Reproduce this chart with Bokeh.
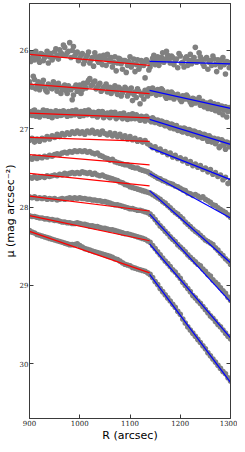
from bokeh.plotting import figure
from bokeh.models import ColumnDataSource, Range1d, FixedTicker, LinearAxis, CustomJSTickFormatter
from bokeh.embed import file_html
from bokeh.resources import INLINE

# ---------------- data ----------------
radius = list(range(900, 1301, 5))                  # arcsec, main sampling
radius_b = [r + 2.5 for r in range(900, 1300, 5)]   # arcsec, extra sampling (noisy outer profiles)

mu_1 = [26.10, 26.03, 26.12, 26.06, 26.15, 26.05, 26.09, 26.01, 26.08, 26.12, 26.02, 26.06, 25.99, 26.05, 25.96, 26.03, 25.90, 26.00, 26.07, 26.02,
        26.10, 26.04, 26.13, 26.06, 26.16, 26.09, 26.03, 26.12, 26.07, 26.18, 26.10, 26.05, 26.14, 26.21, 26.08, 26.16, 26.11, 26.24, 26.13, 26.19,
        26.08, 26.17, 26.27, 26.12, 26.20, 26.15, 26.35, 26.14, 26.21, 26.10, 26.18, 26.08, 26.14, 26.03, 26.11, 26.06, 26.16, 26.09, 26.13, 26.22,
        26.07, 26.15, 26.10, 26.19, 26.05, 26.12, 25.96, 26.14, 26.08, 26.17, 26.11, 26.24, 26.13, 26.07, 26.18, 26.12, 26.21, 26.09, 26.30, 26.15, 26.19]
mu_2 = [26.40, 26.47, 26.37, 26.44, 26.50, 26.42, 26.47, 26.53, 26.45, 26.49, 26.43, 26.52, 26.46, 26.50, 26.44, 26.55, 26.48, 26.63, 26.47, 26.52,
        26.44, 26.50, 26.45, 26.41, 26.36, 26.44, 26.39, 26.47, 26.42, 26.50, 26.46, 26.53, 26.47, 26.51, 26.45, 26.56, 26.49, 26.54, 26.47, 26.58,
        26.51, 26.64, 26.53, 26.49, 26.68, 26.55, 26.51, 26.58, 26.52, 26.48, 26.54, 26.50, 26.56, 26.51, 26.58, 26.53, 26.60, 26.55, 26.59, 26.56,
        26.63, 26.58, 26.62, 26.59, 26.66, 26.61, 26.67, 26.63, 26.70, 26.65, 26.68, 26.74, 26.66, 26.71, 26.77, 26.69, 26.74, 26.82, 26.72, 26.78, 26.75]
mu_3 = [26.78, 26.83, 26.76, 26.81, 26.85, 26.79, 26.83, 26.77, 26.82, 26.86, 26.80, 26.84, 26.78, 26.82, 26.79, 26.84, 26.80, 26.77, 26.82, 26.79,
        26.84, 26.80, 26.77, 26.82, 26.78, 26.83, 26.80, 26.85, 26.81, 26.78, 26.83, 26.80, 26.86, 26.82, 26.79, 26.85, 26.81, 26.87, 26.83, 26.88,
        26.84, 26.81, 26.87, 26.84, 26.89, 26.85, 26.90, 26.86, 26.89, 26.86, 26.92, 26.89, 26.94, 26.91, 26.96, 26.93, 26.99, 26.95, 26.98, 27.02,
        26.99, 27.04, 27.00, 27.06, 27.02, 27.08, 27.04, 27.10, 27.06, 27.12, 27.08, 27.16, 27.11, 27.14, 27.19, 27.13, 27.22, 27.16, 27.26, 27.18, 27.21]
mu_4 = [27.15, 27.12, 27.17, 27.13, 27.16, 27.12, 27.14, 27.10, 27.13, 27.09, 27.11, 27.07, 27.10, 27.06, 27.08, 27.05, 27.07, 27.04, 27.06, 27.03,
        27.06, 27.04, 27.07, 27.03, 27.05, 27.02, 27.06, 27.04, 27.07, 27.03, 27.06, 27.08, 27.05, 27.09, 27.06, 27.10, 27.07, 27.11, 27.09, 27.13,
        27.10, 27.14, 27.12, 27.16, 27.14, 27.17, 27.15, 27.19, 27.21, 27.24, 27.23, 27.27, 27.26, 27.30, 27.29, 27.33, 27.31, 27.36, 27.34, 27.38,
        27.37, 27.41, 27.39, 27.44, 27.42, 27.47, 27.45, 27.49, 27.47, 27.52, 27.50, 27.55, 27.52, 27.58, 27.56, 27.61, 27.59, 27.65, 27.62, 27.70, 27.66]
mu_5 = [27.37, 27.39, 27.36, 27.38, 27.36, 27.37, 27.35, 27.36, 27.34, 27.35, 27.33, 27.32, 27.33, 27.31, 27.30, 27.31, 27.29, 27.30, 27.28, 27.29,
        27.28, 27.29, 27.28, 27.30, 27.29, 27.31, 27.32, 27.31, 27.34, 27.35, 27.37, 27.38, 27.40, 27.39, 27.42, 27.43, 27.44, 27.45, 27.46, 27.46,
        27.48, 27.49, 27.50, 27.50, 27.52, 27.53, 27.54, 27.55, 27.57, 27.59, 27.61, 27.63, 27.64, 27.66, 27.67, 27.69, 27.70, 27.71, 27.73, 27.74,
        27.76, 27.78, 27.79, 27.82, 27.83, 27.85, 27.84, 27.86, 27.88, 27.87, 27.90, 27.92, 27.94, 27.97, 27.98, 28.01, 28.03, 28.05, 28.07, 28.10, 28.13]
mu_6 = [27.62, 27.63, 27.61, 27.63, 27.62, 27.61, 27.62, 27.60, 27.61, 27.60, 27.59, 27.60, 27.58, 27.59, 27.57, 27.58, 27.57, 27.56, 27.57, 27.56,
        27.57, 27.55, 27.56, 27.57, 27.56, 27.58, 27.57, 27.59, 27.60, 27.59, 27.61, 27.62, 27.63, 27.64, 27.65, 27.66, 27.68, 27.69, 27.71, 27.72,
        27.74, 27.75, 27.76, 27.77, 27.78, 27.79, 27.80, 27.81, 27.82, 27.84, 27.86, 27.88, 27.90, 27.93, 27.95, 27.98, 28.01, 28.04, 28.07, 28.09,
        28.12, 28.15, 28.19, 28.22, 28.25, 28.28, 28.31, 28.33, 28.36, 28.39, 28.42, 28.44, 28.46, 28.48, 28.52, 28.55, 28.59, 28.62, 28.66, 28.69, 28.73]
mu_7 = [27.87, 27.88, 27.87, 27.89, 27.88, 27.89, 27.88, 27.90, 27.89, 27.90, 27.89, 27.91, 27.90, 27.89, 27.90, 27.89, 27.88, 27.89, 27.88, 27.89,
        27.88, 27.89, 27.89, 27.90, 27.90, 27.91, 27.91, 27.92, 27.92, 27.93, 27.93, 27.94, 27.95, 27.96, 27.97, 27.97, 27.98, 27.99, 28.00, 28.01,
        28.02, 28.02, 28.03, 28.04, 28.04, 28.05, 28.06, 28.07, 28.09, 28.12, 28.16, 28.20, 28.24, 28.27, 28.31, 28.34, 28.38, 28.41, 28.44, 28.48,
        28.51, 28.54, 28.57, 28.61, 28.64, 28.67, 28.70, 28.73, 28.75, 28.79, 28.82, 28.86, 28.88, 28.93, 28.96, 28.99, 29.03, 29.07, 29.10, 29.15, 29.19]
mu_8 = [28.11, 28.12, 28.12, 28.13, 28.14, 28.14, 28.15, 28.15, 28.16, 28.16, 28.17, 28.17, 28.18, 28.19, 28.19, 28.20, 28.20, 28.21, 28.21, 28.20,
        28.21, 28.22, 28.22, 28.23, 28.24, 28.24, 28.25, 28.25, 28.26, 28.27, 28.27, 28.28, 28.29, 28.29, 28.30, 28.31, 28.32, 28.33, 28.34, 28.34,
        28.35, 28.36, 28.37, 28.38, 28.39, 28.40, 28.41, 28.43, 28.45, 28.49, 28.53, 28.57, 28.61, 28.65, 28.69, 28.72, 28.76, 28.80, 28.83, 28.87,
        28.91, 28.96, 29.00, 29.04, 29.08, 29.13, 29.16, 29.20, 29.23, 29.27, 29.31, 29.35, 29.39, 29.42, 29.46, 29.50, 29.53, 29.57, 29.61, 29.65, 29.68]
mu_9 = [28.30, 28.32, 28.33, 28.35, 28.36, 28.37, 28.38, 28.39, 28.40, 28.41, 28.42, 28.43, 28.44, 28.45, 28.46, 28.47, 28.48, 28.48, 28.48, 28.47,
        28.49, 28.51, 28.53, 28.54, 28.55, 28.56, 28.57, 28.58, 28.59, 28.60, 28.61, 28.62, 28.63, 28.64, 28.66, 28.67, 28.69, 28.71, 28.73, 28.74,
        28.75, 28.77, 28.78, 28.79, 28.80, 28.81, 28.82, 28.84, 28.86, 28.90, 28.95, 28.99, 29.04, 29.08, 29.12, 29.16, 29.20, 29.24, 29.28, 29.33,
        29.37, 29.43, 29.48, 29.53, 29.57, 29.61, 29.65, 29.69, 29.73, 29.77, 29.81, 29.86, 29.90, 29.94, 29.98, 30.02, 30.06, 30.10, 30.13, 30.18, 30.22]

# extra samples of the three noisy outer profiles (at radius_b)
mu_1b = [26.14, 26.07, 26.01, 26.10, 26.04, 26.13, 26.06, 26.16, 26.04, 26.09, 25.98, 26.11, 26.03, 25.93, 26.06, 26.01, 26.09, 25.95, 26.04, 26.13,
         26.06, 26.17, 26.09, 26.02, 26.12, 26.20, 26.08, 26.15, 26.11, 26.06, 26.19, 26.12, 26.09, 26.15, 26.26, 26.10, 26.17, 26.13, 26.28, 26.14,
         26.21, 26.11, 26.18, 26.24, 26.13, 26.19, 26.12, 26.25, 26.16, 26.06, 26.13, 26.19, 26.09, 26.15, 26.01, 26.12, 26.07, 26.18, 26.11, 26.04,
         26.16, 26.21, 26.08, 26.13, 26.17, 26.09, 26.15, 26.03, 26.13, 26.20, 26.09, 26.15, 26.19, 26.11, 26.27, 26.16, 26.12, 26.18, 26.14, 26.22]
mu_2b = [26.45, 26.33, 26.49, 26.40, 26.46, 26.38, 26.51, 26.43, 26.48, 26.40, 26.47, 26.42, 26.55, 26.48, 26.51, 26.45, 26.50, 26.57, 26.44, 26.49,
         26.55, 26.42, 26.48, 26.38, 26.45, 26.41, 26.49, 26.44, 26.52, 26.47, 26.43, 26.50, 26.55, 26.48, 26.52, 26.47, 26.58, 26.51, 26.49, 26.55,
         26.48, 26.56, 26.60, 26.52, 26.57, 26.62, 26.54, 26.49, 26.55, 26.51, 26.57, 26.53, 26.49, 26.55, 26.61, 26.56, 26.53, 26.62, 26.57, 26.60,
         26.65, 26.60, 26.57, 26.63, 26.69, 26.62, 26.66, 26.60, 26.68, 26.72, 26.67, 26.70, 26.75, 26.68, 26.73, 26.79, 26.71, 26.76, 26.85, 26.73]
mu_3b = [26.81, 26.77, 26.84, 26.79, 26.82, 26.76, 26.80, 26.84, 26.78, 26.81, 26.77, 26.80, 26.83, 26.77, 26.81, 26.78, 26.83, 26.80, 26.76, 26.81,
         26.78, 26.83, 26.80, 26.76, 26.81, 26.79, 26.83, 26.78, 26.82, 26.86, 26.81, 26.84, 26.79, 26.83, 26.87, 26.82, 26.85, 26.80, 26.85, 26.82,
         26.87, 26.84, 26.82, 26.87, 26.84, 26.88, 26.84, 26.88, 26.91, 26.88, 26.90, 26.93, 26.90, 26.95, 26.92, 26.97, 26.94, 27.00, 26.96, 27.00,
         27.03, 26.99, 27.04, 27.01, 27.07, 27.03, 27.08, 27.05, 27.11, 27.07, 27.12, 27.09, 27.17, 27.12, 27.16, 27.24, 27.14, 27.20, 27.17, 27.23]

profiles = [mu_1, mu_2, mu_3, mu_4, mu_5, mu_6, mu_7, mu_8, mu_9]
profiles_b = [mu_1b, mu_2b, mu_3b]

# linear fits: inner (red) 900 -> break, outer (blue) break -> 1300
fit_r_start = 900
fit_r_break = 1139
fit_r_end = 1300
inner_mu_start = [26.05, 26.43, 26.80, 27.11, 27.33, 27.57, 27.86, 28.11, 28.31]
inner_mu_end = [26.19, 26.55, 26.86, 27.16, 27.46, 27.73, 28.05, 28.43, 28.84]
outer_mu_start = [26.14, 26.51, 26.88, 27.24, 27.57, 27.79, 28.09, 28.47, 28.86]
outer_mu_end = [26.17, 26.74, 27.20, 27.65, 28.14, 28.71, 29.21, 29.67, 30.24]

x_ticks = [900, 1000, 1100, 1200, 1300]
y_ticks = [26, 27, 28, 29, 30]
x_lim = (900, 1300)
y_lim = (30.7, 25.4)   # inverted magnitude axis

# ---------------- figure ----------------
AX = "#3a3a3a"
p = figure(width=237, height=444, output_backend="svg", toolbar_location=None,
           x_range=Range1d(*x_lim), y_range=Range1d(*y_lim),
           min_border_left=0, min_border_right=7, min_border_top=3, min_border_bottom=0,
           background_fill_color="white", border_fill_color="white")
p.grid.visible = False
p.outline_line_color = AX
p.outline_line_width = 1

pts_x, pts_y = [], []
for prof in profiles:
    pts_x.extend(radius)
    pts_y.extend(prof)
for prof in profiles_b:
    pts_x.extend(radius_b)
    pts_y.extend(prof)
p.scatter(x=pts_x, y=pts_y, size=5.6, fill_color="#808080", line_color=None)

n = len(inner_mu_start)
inner = ColumnDataSource(dict(x0=[fit_r_start] * n, x1=[fit_r_break] * n,
                              y0=inner_mu_start, y1=inner_mu_end))
outer = ColumnDataSource(dict(x0=[fit_r_break] * n, x1=[fit_r_end] * n,
                              y0=outer_mu_start, y1=outer_mu_end))
p.segment(x0="x0", y0="y0", x1="x1", y1="y1", source=inner, line_color="#ff0000", line_width=1.2)
p.segment(x0="x0", y0="y0", x1="x1", y1="y1", source=outer, line_color="#0000ff", line_width=1.2)

def style_axis(ax, ticks):
    ax.ticker = FixedTicker(ticks=ticks)
    ax.major_tick_in = 4
    ax.major_tick_out = 0
    ax.minor_tick_in = 0
    ax.minor_tick_out = 0
    ax.axis_line_color = AX
    ax.major_tick_line_color = AX
    ax.major_label_text_font = "DejaVu Serif"
    ax.major_label_text_font_size = "7px"
    ax.major_label_text_color = "#222222"
    ax.major_label_standoff = 1
    ax.axis_label_text_font = "DejaVu Sans"
    ax.axis_label_text_font_size = "11px"
    ax.axis_label_text_font_style = "normal"
    ax.axis_label_text_color = "black"
    ax.axis_label_standoff = 0

style_axis(p.xaxis[0], x_ticks)
style_axis(p.yaxis[0], y_ticks)
p.xaxis[0].axis_label = "R (arcsec)"
p.yaxis[0].axis_label = "μ (mag arcsec⁻²)"

# unlabeled mirror axes: inward ticks on the top and right frame edges
blank = CustomJSTickFormatter(code="return ''")
top_ax = LinearAxis(formatter=blank)
right_ax = LinearAxis(formatter=blank)
style_axis(top_ax, x_ticks)
style_axis(right_ax, y_ticks)
top_ax.major_label_standoff = 0
right_ax.major_label_standoff = 0
p.add_layout(top_ax, "above")
p.add_layout(right_ax, "right")

open("out.html", "w").write(file_html(p, INLINE))
